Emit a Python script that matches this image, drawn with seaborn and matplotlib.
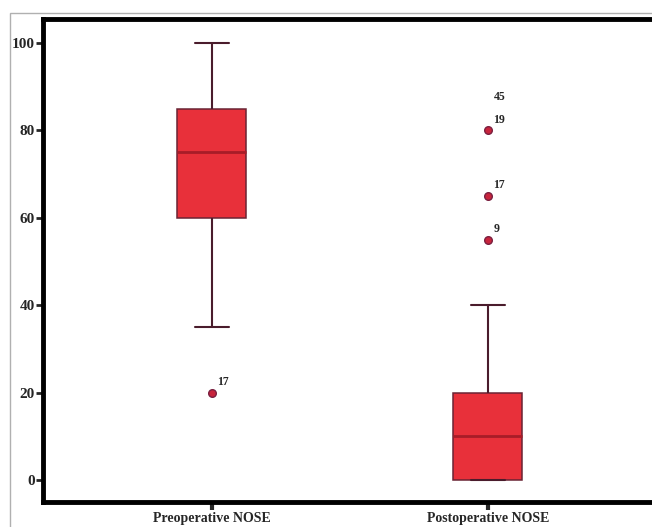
import matplotlib
matplotlib.use("Agg")
import matplotlib.pyplot as plt
import seaborn as sns
import pandas as pd
from matplotlib.patches import Rectangle

# NOSE scores (raw values chosen so the box stats match)
pre_scores = [20, 35, 45, 55, 60, 60, 60, 65, 70, 75, 75, 75, 80, 85, 85, 85, 90, 95, 100]
post_scores = [0, 0, 0, 0, 0, 0, 5, 5, 10, 10, 10, 15, 15, 20, 20, 20, 30, 40, 55, 65, 80]
groups = ["Preoperative NOSE", "Postoperative NOSE"]

# case labels for the outliers: (group index, value, label)
outlier_labels = [(0, 20, "17"), (1, 55, "9"), (1, 65, "17"), (1, 80, "19"), (1, 80, "45")]

df = pd.DataFrame({
    "group": [groups[0]] * len(pre_scores) + [groups[1]] * len(post_scores),
    "score": pre_scores + post_scores,
})

sns.set_style("white")
plt.rcParams['font.family'] = ['Liberation Serif', 'DejaVu Serif']

fig = plt.figure(figsize=(6.52, 5.27), dpi=100)
ax = fig.add_axes([0.066, 0.0474, 1.0, 0.9166])

sns.boxplot(data=df, x="group", y="score", order=groups, ax=ax,
            width=0.25, color="#e8303a", linecolor="#6a2434", linewidth=1.1,
            saturation=1,
            medianprops=dict(color="#a81c28", linewidth=2),
            whiskerprops=dict(color="#4a1c2c", linewidth=1.5),
            capprops=dict(color="#4a1c2c", linewidth=1.5),
            flierprops=dict(marker="o", markersize=5.5, markerfacecolor="#c8243c",
                            markeredgecolor="#7a2040", markeredgewidth=1))

# stacked case labels, like SPSS
seen = {}
for gi, val, lab in outlier_labels:
    k = (gi, val)
    n = seen.get(k, 0)
    seen[k] = n + 1
    ax.annotate(lab, (gi, val), xytext=(4, 3.5 + 16.5 * n), textcoords="offset points",
                fontsize=8.5, fontweight="bold", ha="left", va="bottom")

ax.set_xlim(-0.612, -0.612 + 652 / 276)
ax.set_ylim(-5.03, 105.5)
ax.set_yticks([0, 20, 40, 60, 80, 100])
ax.set_xlabel("")
ax.set_ylabel("")

for side in ["left", "bottom", "top"]:
    ax.spines[side].set_linewidth(3.5)
    ax.spines[side].set_color("black")
ax.spines["right"].set_visible(False)

ax.tick_params(axis="y", direction="out", length=5, width=2, labelsize=11, pad=1, left=True)
ax.tick_params(axis="x", direction="out", length=6, width=3, labelsize=10, pad=1, bottom=True)
for t in ax.get_xticklabels() + ax.get_yticklabels():
    t.set_fontweight("bold")

# thin grey frame around the picture
fig.patches.append(Rectangle((10 / 652, -0.1), 1.2, 1.1 - 13 / 527,
                             transform=fig.transFigure, fill=False,
                             edgecolor="#b0b0b0", linewidth=1, zorder=0))

fig.savefig("out.png", dpi=100, facecolor="white")
